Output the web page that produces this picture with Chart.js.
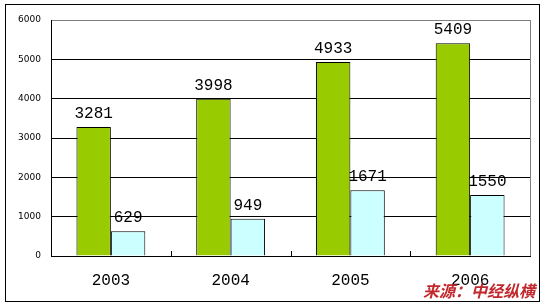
<!DOCTYPE html>
<html>
<head>
<meta charset="utf-8">
<script src="https://cdn.jsdelivr.net/npm/chart.js@4/dist/chart.umd.min.js"></script>
<style>
    html, body { margin: 0; padding: 0; background: #fff; }
    #wrap { position: relative; width: 546px; height: 305px; }
    #moldura { position: absolute; left: 5px; top: 4px; width: 533px; height: 296px; border: 1px solid #000; pointer-events: none; }
    #fonte { position: absolute; left: 423px; top: 281px; font-family: "Noto Sans CJK SC", sans-serif; font-weight: bold; font-style: italic; font-size: 16px; line-height: 18px; color: #c0282d; white-space: nowrap; }
</style>
</head>
<body>
<div id="wrap">
    <canvas id="grafico" width="546" height="305"></canvas>
    <div id="moldura"></div>
    <div id="fonte">来源：中经纵横</div>
</div>
<script>
const anos = ['2003', '2004', '2005', '2006'];
const serieVerde = [3281, 3998, 4933, 5409];
const serieAzul = [629, 949, 1671, 1550];
const ticksY = [0, 1000, 2000, 3000, 4000, 5000, 6000];

// rotulos de valor acima das barras
const rotulosBarras = {
    id: 'rotulosBarras',
    afterDatasetsDraw(chart) {
        const ctx = chart.ctx;
        ctx.save();
        ctx.font = '16px "Liberation Mono", monospace';
        ctx.fillStyle = '#000';
        ctx.textAlign = 'center';
        ctx.textBaseline = 'alphabetic';
        chart.data.datasets.forEach((ds, i) => {
            chart.getDatasetMeta(i).data.forEach((bar, j) => {
                ctx.fillText(String(ds.data[j]), bar.x, bar.y - 9);
            });
        });
        ctx.restore();
    }
};

// borda cinza direita e marcas entre categorias
const bordaEMarcas = {
    id: 'bordaEMarcas',
    afterDraw(chart) {
        const ctx = chart.ctx;
        const area = chart.chartArea;
        const x = chart.scales.x;
        ctx.save();
        ctx.lineWidth = 1;
        ctx.strokeStyle = '#808080';
        ctx.beginPath();
        ctx.moveTo(Math.round(area.right) + 0.5, area.top);
        ctx.lineTo(Math.round(area.right) + 0.5, area.bottom);
        ctx.stroke();
        ctx.strokeStyle = '#000';
        ctx.beginPath();
        for (let i = 0; i < anos.length - 1; i++) {
            const px = Math.round((x.getPixelForValue(i) + x.getPixelForValue(i + 1)) / 2) + 0.5;
            ctx.moveTo(px, area.bottom);
            ctx.lineTo(px, area.bottom - 5);
        }
        ctx.stroke();
        ctx.restore();
    }
};

new Chart(document.getElementById('grafico'), {
    type: 'bar',
    data: {
        labels: anos,
        datasets: [
            {
                data: serieVerde,
                backgroundColor: '#99cc00',
                borderColor: '#000',
                borderWidth: 1,
                categoryPercentage: 0.575,
                barPercentage: 1
            },
            {
                data: serieAzul,
                backgroundColor: '#ccffff',
                borderColor: '#000',
                borderWidth: 1,
                categoryPercentage: 0.575,
                barPercentage: 1
            }
        ]
    },
    options: {
        responsive: false,
        animation: false,
        layout: { padding: { top: 20, right: 16, left: 0, bottom: 0 } },
        plugins: { legend: { display: false }, tooltip: { enabled: false } },
        scales: {
            x: {
                grid: { display: false },
                border: { color: '#000', width: 1 },
                ticks: {
                    color: '#000',
                    padding: 7,
                    font: { family: '"Liberation Mono", monospace', size: 16 }
                },
                afterFit(scale) { scale.height = 49; }
            },
            y: {
                min: 0,
                max: 6000,
                afterBuildTicks(scale) { scale.ticks = ticksY.map(v => ({ value: v })); },
                grid: {
                    color: ctx => ctx.tick && ctx.tick.value === 6000 ? '#808080' : '#000',
                    lineWidth: 1,
                    drawTicks: false
                },
                border: { color: '#000', width: 1 },
                ticks: {
                    color: '#000',
                    padding: 10,
                    font: { family: '"DejaVu Sans", sans-serif', size: 9 },
                    callback: v => String(v)
                },
                afterFit(scale) { scale.width = 51; }
            }
        }
    },
    plugins: [rotulosBarras, bordaEMarcas]
});
</script>
</body>
</html>
